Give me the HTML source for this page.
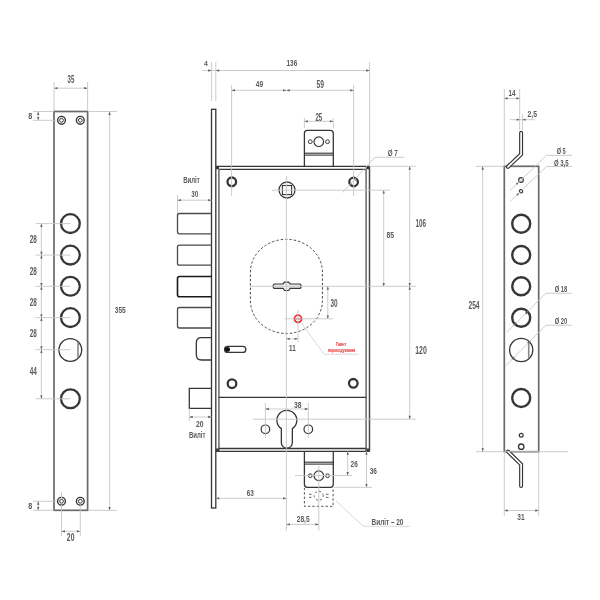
<!DOCTYPE html>
<html><head><meta charset="utf-8"><style>
html,body{margin:0;padding:0;background:#fff;width:600px;height:600px;overflow:hidden}
svg{display:block;will-change:transform}
.d{stroke:#c6c6c6;stroke-width:0.9;fill:none}
.o{stroke:#363636;stroke-width:1.3;fill:none}
.o1{stroke:#333;stroke-width:1.1;fill:none}
.o2{stroke:#888;stroke-width:1.6;fill:none}
.ar{fill:#606060}
text{font-family:"Liberation Sans",sans-serif;fill:#5a5a5a;text-anchor:middle;font-weight:bold}
</style></head><body>
<svg width="600" height="600" viewBox="0 0 600 600">
<rect x="54" y="111.5" width="33.6" height="398.8" fill="none" stroke="#6a6a6a" stroke-width="1.7"/>
<circle cx="61.5" cy="120.3" r="3.9" stroke="#363636" stroke-width="1.4" fill="none"/>
<circle cx="61.5" cy="120.3" r="1.9" stroke="#363636" stroke-width="1.0" fill="none"/>
<circle cx="61.5" cy="501.3" r="3.9" stroke="#363636" stroke-width="1.4" fill="none"/>
<circle cx="61.5" cy="501.3" r="1.9" stroke="#363636" stroke-width="1.0" fill="none"/>
<circle cx="80.3" cy="120.3" r="3.9" stroke="#363636" stroke-width="1.4" fill="none"/>
<circle cx="80.3" cy="120.3" r="1.9" stroke="#363636" stroke-width="1.0" fill="none"/>
<circle cx="80.3" cy="501.3" r="3.9" stroke="#363636" stroke-width="1.4" fill="none"/>
<circle cx="80.3" cy="501.3" r="1.9" stroke="#363636" stroke-width="1.0" fill="none"/>
<circle cx="70.4" cy="223.6" r="9.4" stroke="#363636" stroke-width="2.3" fill="none"/>
<circle cx="70.4" cy="255.1" r="9.4" stroke="#363636" stroke-width="2.3" fill="none"/>
<circle cx="70.4" cy="286.3" r="9.4" stroke="#363636" stroke-width="2.3" fill="none"/>
<circle cx="70.4" cy="317.6" r="9.4" stroke="#363636" stroke-width="2.3" fill="none"/>
<circle cx="70.4" cy="398.8" r="9.4" stroke="#363636" stroke-width="2.3" fill="none"/>
<circle cx="70.3" cy="350" r="11.4" stroke="#363636" stroke-width="1.3" fill="none"/>
<line class="o2" x1="78" y1="342.2" x2="78" y2="357.8"/>
<line class="d" x1="54" y1="88.2" x2="87.6" y2="88.2"/>
<polygon class="ar" points="54.00,88.20 57.40,87.05 57.40,89.35"/>
<polygon class="ar" points="87.60,88.20 84.20,89.35 84.20,87.05"/>
<line class="d" x1="54" y1="82" x2="54" y2="111"/>
<line class="d" x1="87.6" y1="82" x2="87.6" y2="111"/>
<text x="70.88" y="82.90" font-size="10.25" textLength="6.75" lengthAdjust="spacingAndGlyphs">35</text>
<line class="d" x1="33" y1="111.5" x2="54" y2="111.5"/>
<line class="d" x1="33" y1="120.3" x2="56" y2="120.3"/>
<line class="d" x1="38.2" y1="111.5" x2="38.2" y2="120.3"/>
<polygon class="ar" points="38.20,111.50 39.35,114.90 37.05,114.90"/>
<polygon class="ar" points="38.20,120.30 37.05,116.90 39.35,116.90"/>
<text x="30.25" y="118.80" font-size="9.81" textLength="4.00" lengthAdjust="spacingAndGlyphs">8</text>
<line class="d" x1="33" y1="501.3" x2="56" y2="501.3"/>
<line class="d" x1="33" y1="510.3" x2="54" y2="510.3"/>
<line class="d" x1="38.2" y1="501.3" x2="38.2" y2="510.3"/>
<polygon class="ar" points="38.20,501.30 39.35,504.70 37.05,504.70"/>
<polygon class="ar" points="38.20,510.30 37.05,506.90 39.35,506.90"/>
<text x="30.25" y="508.90" font-size="9.96" textLength="4.00" lengthAdjust="spacingAndGlyphs">8</text>
<line class="d" x1="61.5" y1="492" x2="61.5" y2="498"/>
<line class="d" x1="61.5" y1="505" x2="61.5" y2="536"/>
<line class="d" x1="80.3" y1="505" x2="80.3" y2="536"/>
<line class="d" x1="35.5" y1="223.6" x2="70.4" y2="223.6"/>
<line class="d" x1="35.5" y1="255.1" x2="70.4" y2="255.1"/>
<line class="d" x1="35.5" y1="286.3" x2="70.4" y2="286.3"/>
<line class="d" x1="35.5" y1="317.6" x2="70.4" y2="317.6"/>
<line class="d" x1="35.5" y1="349.7" x2="70.4" y2="349.7"/>
<line class="d" x1="35.5" y1="398.8" x2="70.4" y2="398.8"/>
<line class="d" x1="41.4" y1="223.6" x2="41.4" y2="398.8"/>
<polygon class="ar" points="41.40,223.60 42.55,227.00 40.25,227.00"/>
<polygon class="ar" points="41.40,255.10 40.25,251.70 42.55,251.70"/>
<polygon class="ar" points="41.40,255.10 42.55,258.50 40.25,258.50"/>
<polygon class="ar" points="41.40,286.30 40.25,282.90 42.55,282.90"/>
<polygon class="ar" points="41.40,286.30 42.55,289.70 40.25,289.70"/>
<polygon class="ar" points="41.40,317.60 40.25,314.20 42.55,314.20"/>
<polygon class="ar" points="41.40,317.60 42.55,321.00 40.25,321.00"/>
<polygon class="ar" points="41.40,349.70 40.25,346.30 42.55,346.30"/>
<polygon class="ar" points="41.40,349.70 42.55,353.10 40.25,353.10"/>
<polygon class="ar" points="41.40,398.80 40.25,395.40 42.55,395.40"/>
<text x="33.30" y="243.10" font-size="10.25" textLength="7.10" lengthAdjust="spacingAndGlyphs">28</text>
<text x="33.30" y="275.10" font-size="10.25" textLength="7.10" lengthAdjust="spacingAndGlyphs">28</text>
<text x="33.30" y="306.30" font-size="10.25" textLength="7.10" lengthAdjust="spacingAndGlyphs">28</text>
<text x="33.30" y="337.40" font-size="10.25" textLength="7.10" lengthAdjust="spacingAndGlyphs">28</text>
<text x="33.30" y="374.80" font-size="10.25" textLength="7.10" lengthAdjust="spacingAndGlyphs">44</text>
<line class="d" x1="88" y1="111.5" x2="117" y2="111.5"/>
<line class="d" x1="88" y1="510.3" x2="117" y2="510.3"/>
<line class="d" x1="109.6" y1="111.5" x2="109.6" y2="510.3"/>
<polygon class="ar" points="109.60,111.50 110.75,114.90 108.45,114.90"/>
<polygon class="ar" points="109.60,510.30 108.45,506.90 110.75,506.90"/>
<text x="120.20" y="313.10" font-size="9.81" textLength="10.90" lengthAdjust="spacingAndGlyphs">355</text>
<line class="d" x1="61.5" y1="531.3" x2="80.3" y2="531.3"/>
<polygon class="ar" points="61.50,531.30 64.90,530.15 64.90,532.45"/>
<polygon class="ar" points="80.30,531.30 76.90,532.45 76.90,530.15"/>
<text x="70.65" y="541.00" font-size="10.25" textLength="7.60" lengthAdjust="spacingAndGlyphs">20</text>
<rect x="211.5" y="109.3" width="4.3" height="398.7" fill="none" stroke="#363636" stroke-width="1.3"/>
<line class="o" x1="215.8" y1="166.3" x2="369.6" y2="166.3"/>
<line class="o" x1="215.8" y1="451.3" x2="369.6" y2="451.3"/>
<line x1="369.5" y1="166.3" x2="369.5" y2="451.3" stroke="#4a4a4a" stroke-width="1.5"/>
<line class="o" x1="218.8" y1="169.4" x2="366.3" y2="169.4"/>
<line x1="366.1" y1="169.4" x2="366.1" y2="451.3" stroke="#7a7a7a" stroke-width="1.7"/>
<line x1="218.9" y1="169.4" x2="218.9" y2="451.3" stroke="#7a7a7a" stroke-width="1.7"/>
<line class="o" x1="218.8" y1="448.5" x2="366.3" y2="448.5"/>
<line class="o" x1="218.8" y1="397.3" x2="366.3" y2="397.3"/>
<rect x="215.8" y="166.3" width="3.2" height="3.0" fill="#3a3a3a"/>
<rect x="366.3" y="166.3" width="3.2" height="3.0" fill="#3a3a3a"/>
<rect x="215.8" y="448.5" width="3.2" height="3.0" fill="#3a3a3a"/>
<rect x="366.3" y="448.5" width="3.2" height="3.0" fill="#3a3a3a"/>
<path class="o" d="M304.4 166.3 V133.4 Q304.4 130.4 307.4 130.4 H330.3 Q333.3 130.4 333.3 133.4 V166.3"/>
<line class="o1" x1="304.4" y1="153.2" x2="333.3" y2="153.2"/>
<line class="o1" x1="304.4" y1="155.1" x2="333.3" y2="155.1"/>
<circle cx="318.8" cy="141.7" r="4.8" stroke="#363636" stroke-width="1.2" fill="none"/>
<circle cx="310.3" cy="141.7" r="1.9" stroke="#363636" stroke-width="1.0" fill="none"/>
<circle cx="327.5" cy="141.7" r="1.9" stroke="#363636" stroke-width="1.0" fill="none"/>
<path class="o" d="M304.4 451.3 V484.3 Q304.4 487.3 307.4 487.3 H330.3 Q333.3 487.3 333.3 484.3 V451.3"/>
<line class="o1" x1="304.4" y1="462.2" x2="333.3" y2="462.2"/>
<line class="o1" x1="304.4" y1="464.1" x2="333.3" y2="464.1"/>
<circle cx="318.8" cy="475.7" r="4.8" stroke="#363636" stroke-width="1.2" fill="none"/>
<circle cx="310.3" cy="475.7" r="1.9" stroke="#363636" stroke-width="1.0" fill="none"/>
<circle cx="327.5" cy="475.7" r="1.9" stroke="#363636" stroke-width="1.0" fill="none"/>
<path d="M304.4 487.8 V506.3 H333.1 V487.8" fill="none" stroke="#555" stroke-width="1" stroke-dasharray="2.4,2"/>
<circle cx="318.7" cy="495.8" r="4.5" fill="none" stroke="#555" stroke-width="0.9" stroke-dasharray="2.2,2.2" stroke-dashoffset="1"/>
<path d="M309 494.3 H311.5 M309 497.4 H311.5 M326 494.3 H328.5 M326 497.4 H328.5" fill="none" stroke="#555" stroke-width="0.9"/>
<path fill="none" stroke="#4a4a4a" stroke-width="1.3" d="M211.6 213.5 H179.5 Q177.5 213.5 177.5 215.5 V231.8 Q177.5 233.8 179.5 233.8 H211.6"/>
<path fill="none" stroke="#4a4a4a" stroke-width="1.3" d="M211.6 245.1 H179.5 Q177.5 245.1 177.5 247.1 V263.2 Q177.5 265.2 179.5 265.2 H211.6"/>
<path fill="none" stroke="#1a1a1a" stroke-width="1.6" d="M211.6 276.5 H179.5 Q177.5 276.5 177.5 278.5 V294.7 Q177.5 296.7 179.5 296.7 H211.6"/>
<path fill="none" stroke="#4a4a4a" stroke-width="1.3" d="M211.6 307.5 H179.5 Q177.5 307.5 177.5 309.5 V326 Q177.5 328 179.5 328 H211.6"/>
<path class="o" d="M211.6 337.6 H201.5 Q196.3 337.6 196.3 342.8 V354.8 Q196.3 360 201.5 360 H211.6"/>
<path class="o" d="M211.6 388.3 H189.3 V408.4 H211.6"/>
<circle cx="231.8" cy="181.8" r="4.3" stroke="#363636" stroke-width="2.3" fill="none"/>
<circle cx="353.6" cy="182" r="4.3" stroke="#363636" stroke-width="2.3" fill="none"/>
<circle cx="232" cy="383.7" r="4.3" stroke="#363636" stroke-width="2.3" fill="none"/>
<circle cx="353.3" cy="383.3" r="4.3" stroke="#363636" stroke-width="2.3" fill="none"/>
<circle cx="287" cy="190" r="8.0" stroke="#363636" stroke-width="1.3" fill="none"/>
<rect x="282.4" y="185.5" width="9.2" height="9.1" fill="none" stroke="#363636" stroke-width="1.1"/>
<path d="M250.4 272.3 A36 33 0 0 1 322.4 272.3 V300.5 A36 33 0 0 1 250.4 300.5 Z" fill="none" stroke="#444" stroke-width="1" stroke-dasharray="2.4,2"/>
<path fill="#ececec" stroke="#363636" stroke-width="1.2" d="M274.6 284 H283 L284.6 282.1 H288.6 L290.2 284 H299.6 Q301 284 301 286.2 Q301 288.4 299.6 288.4 H290.2 L288.6 290.5 H284.6 L283 288.4 H274.6 Q273.2 288.4 273.2 286.2 Q273.2 284 274.6 284 Z"/>
<rect x="224.6" y="346.4" width="21.2" height="6" rx="3" fill="none" stroke="#363636" stroke-width="1.3"/>
<ellipse cx="227.4" cy="349.4" rx="2.6" ry="2.4" fill="#111"/>
<path class="o" d="M281.35 428.65 A10 10 0 1 1 292.35 428.65 V442.7 A5.5 5.5 0 0 1 281.35 442.7 Z"/>
<circle cx="265.4" cy="429.3" r="4.3" stroke="#363636" stroke-width="1.2" fill="none"/>
<circle cx="308.3" cy="429.3" r="4.3" stroke="#363636" stroke-width="1.2" fill="none"/>
<circle cx="298" cy="318.8" r="3.6" fill="none" stroke="#e8282b" stroke-width="1.7"/>
<line x1="294.4" y1="318.8" x2="301.6" y2="318.8" stroke="#e8282b" stroke-width="1.2"/>
<line class="d" x1="286.4" y1="176" x2="286.4" y2="530.5"/>
<line class="d" x1="231.6" y1="85" x2="231.6" y2="196"/>
<line class="d" x1="353.6" y1="85" x2="353.6" y2="196"/>
<line class="d" x1="211.6" y1="62" x2="211.6" y2="101"/>
<line class="d" x1="215.8" y1="62" x2="215.8" y2="101"/>
<line class="d" x1="369.6" y1="62" x2="369.6" y2="166"/>
<line class="d" x1="202.5" y1="70.5" x2="369.6" y2="70.5"/>
<polygon class="ar" points="211.60,70.50 208.20,71.65 208.20,69.35"/>
<polygon class="ar" points="215.80,70.50 219.20,69.35 219.20,71.65"/>
<polygon class="ar" points="369.60,70.50 366.20,71.65 366.20,69.35"/>
<text x="205.85" y="65.90" font-size="8.06" textLength="3.80" lengthAdjust="spacingAndGlyphs">4</text>
<text x="291.90" y="65.90" font-size="9.23" textLength="10.70" lengthAdjust="spacingAndGlyphs">136</text>
<line class="d" x1="231.6" y1="90.3" x2="286.4" y2="90.3"/>
<polygon class="ar" points="231.60,90.30 235.00,89.15 235.00,91.45"/>
<polygon class="ar" points="286.40,90.30 283.00,91.45 283.00,89.15"/>
<line class="d" x1="286.4" y1="90.3" x2="353.6" y2="90.3"/>
<polygon class="ar" points="286.40,90.30 289.80,89.15 289.80,91.45"/>
<polygon class="ar" points="353.60,90.30 350.20,91.45 350.20,89.15"/>
<text x="259.50" y="87.30" font-size="9.96" textLength="7.30" lengthAdjust="spacingAndGlyphs">49</text>
<text x="320.30" y="87.60" font-size="10.25" textLength="7.50" lengthAdjust="spacingAndGlyphs">59</text>
<line class="d" x1="304.4" y1="118" x2="304.4" y2="128"/>
<line class="d" x1="333.3" y1="118" x2="333.3" y2="128"/>
<line class="d" x1="304.4" y1="121.3" x2="333.3" y2="121.3"/>
<polygon class="ar" points="304.40,121.30 307.80,120.15 307.80,122.45"/>
<polygon class="ar" points="333.30,121.30 329.90,122.45 329.90,120.15"/>
<text x="318.85" y="121.10" font-size="10.25" textLength="6.80" lengthAdjust="spacingAndGlyphs">25</text>
<line class="d" x1="342.5" y1="192.5" x2="375" y2="157.3"/>
<line class="d" x1="375" y1="157.3" x2="404" y2="157.3"/>
<polygon class="ar" points="357.50,178.30 356.27,181.25 354.65,179.75"/>
<polygon class="ar" points="350.00,186.20 351.23,183.25 352.85,184.75"/>
<text x="392.75" y="156.30" font-size="9.52" textLength="10.00" lengthAdjust="spacingAndGlyphs">Ø 7</text>
<line class="d" x1="272" y1="190.2" x2="390" y2="190.2"/>
<line class="d" x1="369.6" y1="166.3" x2="415.8" y2="166.3"/>
<line class="d" x1="249.8" y1="286.3" x2="415.8" y2="286.3"/>
<line class="d" x1="253" y1="419.2" x2="415.8" y2="419.2"/>
<line class="d" x1="383.7" y1="190.2" x2="383.7" y2="286.3"/>
<polygon class="ar" points="383.70,190.20 384.85,193.60 382.55,193.60"/>
<polygon class="ar" points="383.70,286.30 382.55,282.90 384.85,282.90"/>
<line class="d" x1="409.7" y1="166.3" x2="409.7" y2="286.3"/>
<polygon class="ar" points="409.70,166.30 410.85,169.70 408.55,169.70"/>
<polygon class="ar" points="409.70,286.30 408.55,282.90 410.85,282.90"/>
<line class="d" x1="409.7" y1="286.3" x2="409.7" y2="419.2"/>
<polygon class="ar" points="409.70,286.30 410.85,289.70 408.55,289.70"/>
<polygon class="ar" points="409.70,419.20 408.55,415.80 410.85,415.80"/>
<text x="390.20" y="238.40" font-size="9.67" textLength="7.50" lengthAdjust="spacingAndGlyphs">85</text>
<text x="420.80" y="227.10" font-size="10.69" textLength="10.50" lengthAdjust="spacingAndGlyphs">106</text>
<text x="421.00" y="353.60" font-size="10.25" textLength="11.50" lengthAdjust="spacingAndGlyphs">120</text>
<line class="d" x1="284.4" y1="318.8" x2="333" y2="318.8"/>
<line class="d" x1="327.8" y1="286.3" x2="327.8" y2="318.8"/>
<polygon class="ar" points="327.80,286.30 328.95,289.70 326.65,289.70"/>
<polygon class="ar" points="327.80,318.80 326.65,315.40 328.95,315.40"/>
<text x="334.00" y="307.30" font-size="10.25" textLength="7.10" lengthAdjust="spacingAndGlyphs">30</text>
<line class="d" x1="298" y1="310" x2="298" y2="342"/>
<line class="d" x1="286.4" y1="338.8" x2="298" y2="338.8"/>
<polygon class="ar" points="286.40,338.80 289.80,337.65 289.80,339.95"/>
<polygon class="ar" points="298.00,338.80 294.60,339.95 294.60,337.65"/>
<text x="292.40" y="350.90" font-size="9.96" textLength="6.70" lengthAdjust="spacingAndGlyphs">11</text>
<polyline points="301,322.5 324,354.2 359,354.2" fill="none" stroke="#cfcfcf" stroke-width="0.8"/>
<text x="341.10" y="345.70" font-size="5.60" textLength="10.30" lengthAdjust="spacingAndGlyphs" style="fill:#e8282b">Гвинт</text>
<text x="341.50" y="352.40" font-size="5.60" textLength="27.50" lengthAdjust="spacingAndGlyphs" style="fill:#e8282b">перекодування</text>
<line class="d" x1="177.5" y1="195" x2="177.5" y2="213"/>
<line class="d" x1="177.5" y1="200.2" x2="211.6" y2="200.2"/>
<polygon class="ar" points="177.50,200.20 180.90,199.05 180.90,201.35"/>
<polygon class="ar" points="211.60,200.20 208.20,201.35 208.20,199.05"/>
<text x="191.50" y="183.10" font-size="9.00" textLength="16.50" lengthAdjust="spacingAndGlyphs">Виліт</text>
<text x="194.75" y="197.30" font-size="9.81" textLength="7.00" lengthAdjust="spacingAndGlyphs">30</text>
<line class="d" x1="189.3" y1="408.4" x2="189.3" y2="421"/>
<line class="d" x1="189.3" y1="417" x2="211.6" y2="417"/>
<polygon class="ar" points="189.30,417.00 192.70,415.85 192.70,418.15"/>
<polygon class="ar" points="211.60,417.00 208.20,418.15 208.20,415.85"/>
<text x="199.80" y="426.60" font-size="8.64" textLength="7.50" lengthAdjust="spacingAndGlyphs">20</text>
<text x="197.25" y="437.80" font-size="9.00" textLength="16.40" lengthAdjust="spacingAndGlyphs">Виліт</text>
<line class="d" x1="265.4" y1="403" x2="265.4" y2="438"/>
<line class="d" x1="308.3" y1="403" x2="308.3" y2="438"/>
<line class="d" x1="265.4" y1="409" x2="308.3" y2="409"/>
<polygon class="ar" points="265.40,409.00 268.80,407.85 268.80,410.15"/>
<polygon class="ar" points="308.30,409.00 304.90,410.15 304.90,407.85"/>
<text x="297.70" y="407.90" font-size="9.23" textLength="7.50" lengthAdjust="spacingAndGlyphs">38</text>
<line class="d" x1="366.5" y1="451.3" x2="366.5" y2="487.3"/>
<polygon class="ar" points="366.50,451.30 367.65,454.70 365.35,454.70"/>
<polygon class="ar" points="366.50,487.30 365.35,483.90 367.65,483.90"/>
<line class="d" x1="333.3" y1="487.3" x2="372" y2="487.3"/>
<line class="d" x1="295" y1="475.5" x2="352" y2="475.5"/>
<line class="d" x1="347.7" y1="451.3" x2="347.7" y2="475.5"/>
<polygon class="ar" points="347.70,451.30 348.85,454.70 346.55,454.70"/>
<polygon class="ar" points="347.70,475.50 346.55,472.10 348.85,472.10"/>
<text x="354.15" y="466.90" font-size="9.67" textLength="7.20" lengthAdjust="spacingAndGlyphs">26</text>
<text x="373.35" y="473.90" font-size="9.96" textLength="7.20" lengthAdjust="spacingAndGlyphs">36</text>
<line class="d" x1="215.8" y1="498.3" x2="286.4" y2="498.3"/>
<polygon class="ar" points="215.80,498.30 219.20,497.15 219.20,499.45"/>
<polygon class="ar" points="286.40,498.30 283.00,499.45 283.00,497.15"/>
<text x="250.20" y="496.20" font-size="9.67" textLength="7.10" lengthAdjust="spacingAndGlyphs">63</text>
<line class="d" x1="318.8" y1="466" x2="318.8" y2="530.5"/>
<line class="d" x1="286.4" y1="524.4" x2="318.8" y2="524.4"/>
<polygon class="ar" points="286.40,524.40 289.80,523.25 289.80,525.55"/>
<polygon class="ar" points="318.80,524.40 315.40,525.55 315.40,523.25"/>
<text x="303.20" y="522.30" font-size="9.37" textLength="12.90" lengthAdjust="spacingAndGlyphs">28,5</text>
<polyline points="336,501 363.5,526.3 410,526.3" fill="none" stroke="#cfcfcf" stroke-width="0.8"/>
<text x="387.50" y="524.90" font-size="9.50" textLength="31.90" lengthAdjust="spacingAndGlyphs">Виліт – 20</text>
<rect x="504.3" y="166.3" width="34.4" height="285.4" fill="none" stroke="#6a6a6a" stroke-width="1.7"/>
<circle cx="521.2" cy="223.7" r="9.0" stroke="#363636" stroke-width="2.4" fill="none"/>
<circle cx="521.2" cy="255" r="9.0" stroke="#363636" stroke-width="2.4" fill="none"/>
<circle cx="521.2" cy="286.2" r="9.0" stroke="#363636" stroke-width="2.4" fill="none"/>
<circle cx="521.2" cy="317.8" r="9.0" stroke="#363636" stroke-width="2.4" fill="none"/>
<circle cx="521.2" cy="398" r="9.0" stroke="#363636" stroke-width="2.4" fill="none"/>
<circle cx="521.2" cy="350" r="11.6" stroke="#363636" stroke-width="1.3" fill="none"/>
<line class="o2" x1="528.7" y1="341.7" x2="528.7" y2="357.8"/>
<circle cx="521" cy="180" r="2.3" stroke="#363636" stroke-width="1.2" fill="none"/>
<circle cx="521" cy="191.3" r="1.7" stroke="#363636" stroke-width="1.1" fill="none"/>
<circle cx="521.2" cy="435.3" r="1.9" stroke="#363636" stroke-width="1.2" fill="none"/>
<circle cx="521.2" cy="446.7" r="2.7" stroke="#363636" stroke-width="1.3" fill="none"/>
<polyline points="521.1,132.8 521.1,154.3 507.9,166.8" fill="none" stroke="#363636" stroke-width="4.0" stroke-linejoin="miter" stroke-linecap="round"/>
<polyline points="521.1,132.8 521.1,154.3 507.9,166.8" fill="none" stroke="#fff" stroke-width="1.7" stroke-linejoin="miter" stroke-linecap="round"/>
<polyline points="507.9,451.5 521.1,464.3 521.1,486" fill="none" stroke="#363636" stroke-width="4.0" stroke-linejoin="miter" stroke-linecap="round"/>
<polyline points="507.9,451.5 521.1,464.3 521.1,486" fill="none" stroke="#fff" stroke-width="1.7" stroke-linejoin="miter" stroke-linecap="round"/>
<line class="d" x1="504.3" y1="89" x2="504.3" y2="166"/>
<line class="d" x1="519.7" y1="89" x2="519.7" y2="130"/>
<line class="d" x1="504.3" y1="98.4" x2="519.7" y2="98.4"/>
<polygon class="ar" points="504.30,98.40 507.70,97.25 507.70,99.55"/>
<polygon class="ar" points="519.70,98.40 516.30,99.55 516.30,97.25"/>
<text x="512.00" y="95.50" font-size="9.37" textLength="6.90" lengthAdjust="spacingAndGlyphs">14</text>
<line class="d" x1="522.5" y1="114.5" x2="522.5" y2="130"/>
<line class="d" x1="510" y1="119.7" x2="534.3" y2="119.7"/>
<polygon class="ar" points="519.70,119.70 516.70,120.80 516.70,118.60"/>
<polygon class="ar" points="522.50,119.70 525.50,118.60 525.50,120.80"/>
<text x="532.20" y="116.50" font-size="9.37" textLength="9.50" lengthAdjust="spacingAndGlyphs">2,5</text>
<line class="d" x1="476" y1="166.3" x2="504.3" y2="166.3"/>
<line class="d" x1="476" y1="451.7" x2="568" y2="451.7"/>
<line class="d" x1="482.7" y1="166.3" x2="482.7" y2="451.7"/>
<polygon class="ar" points="482.70,166.30 483.85,169.70 481.55,169.70"/>
<polygon class="ar" points="482.70,451.70 481.55,448.30 483.85,448.30"/>
<text x="474.00" y="309.10" font-size="10.25" textLength="11.10" lengthAdjust="spacingAndGlyphs">254</text>
<line class="d" x1="504.3" y1="452" x2="504.3" y2="515.8"/>
<line class="d" x1="538.7" y1="452" x2="538.7" y2="515.8"/>
<line class="d" x1="504.3" y1="510.5" x2="538.7" y2="510.5"/>
<polygon class="ar" points="504.30,510.50 507.70,509.35 507.70,511.65"/>
<polygon class="ar" points="538.70,510.50 535.30,511.65 535.30,509.35"/>
<text x="521.00" y="520.00" font-size="9.96" textLength="7.30" lengthAdjust="spacingAndGlyphs">31</text>
<line class="d" x1="510" y1="190.5" x2="546.5" y2="155.4"/>
<line class="d" x1="546.5" y1="155.4" x2="572" y2="155.4"/>
<line class="d" x1="510" y1="201.5" x2="546.5" y2="166.5"/>
<line class="d" x1="546.5" y1="166.5" x2="572" y2="166.5"/>
<polygon class="ar" points="518.60,182.20 517.20,185.07 515.67,183.48"/>
<polygon class="ar" points="519.20,193.00 517.80,195.87 516.27,194.28"/>
<text x="561.20" y="153.60" font-size="8.79" textLength="9.10" lengthAdjust="spacingAndGlyphs">Ø 5</text>
<text x="561.35" y="165.60" font-size="8.79" textLength="14.80" lengthAdjust="spacingAndGlyphs">Ø 3,5</text>
<line class="d" x1="506.7" y1="332.5" x2="545.8" y2="293.3"/>
<line class="d" x1="545.8" y1="293.3" x2="571.7" y2="293.3"/>
<line class="d" x1="505.8" y1="365.8" x2="545.8" y2="325.3"/>
<line class="d" x1="545.8" y1="325.3" x2="571.7" y2="325.3"/>
<polygon class="ar" points="528.30,311.00 526.74,314.39 524.91,312.56"/>
<polygon class="ar" points="513.50,325.30 515.06,321.91 516.89,323.74"/>
<polygon class="ar" points="530.50,340.60 528.94,343.99 527.11,342.16"/>
<polygon class="ar" points="511.50,359.80 513.06,356.41 514.89,358.24"/>
<text x="561.00" y="292.10" font-size="9.08" textLength="12.50" lengthAdjust="spacingAndGlyphs">Ø 18</text>
<text x="561.00" y="323.80" font-size="9.08" textLength="12.50" lengthAdjust="spacingAndGlyphs">Ø 20</text>
</svg>
</body></html>
